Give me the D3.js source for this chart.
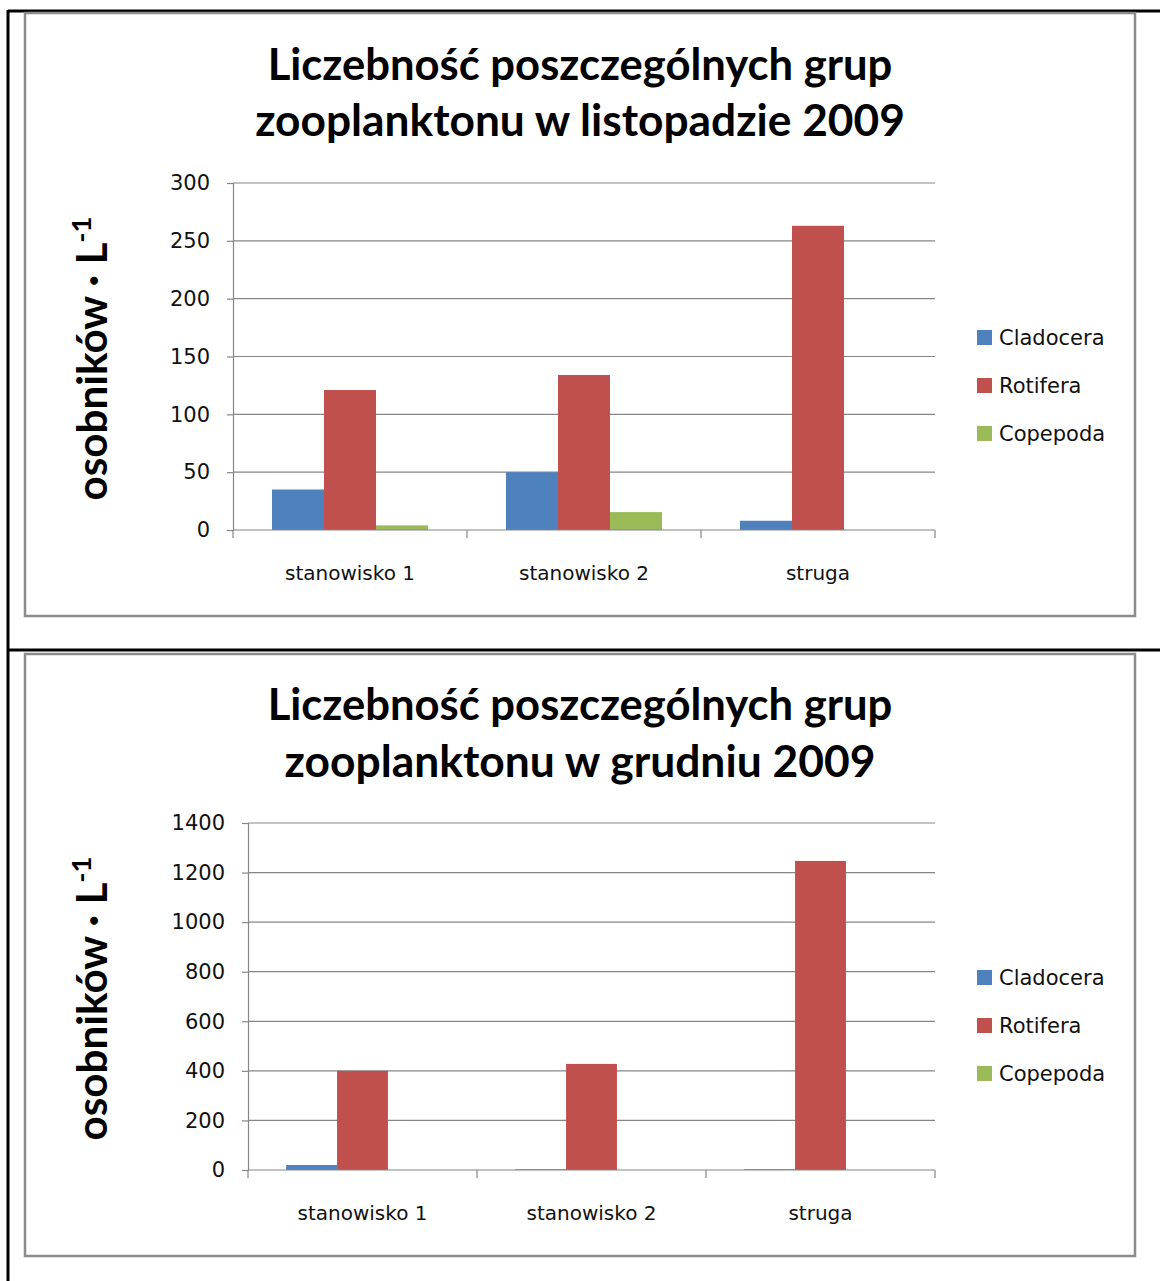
<!DOCTYPE html>
<html><head><meta charset="utf-8">
<script src="https://cdn.jsdelivr.net/npm/d3@7"></script>
<style>body{margin:0;background:#fff}svg{display:block}</style>
</head><body>
<script>
const categories = ["stanowisko 1", "stanowisko 2", "struga"];
const seriesNames = ["Cladocera", "Rotifera", "Copepoda"];
const colors = ["#4F81BD", "#C0504D", "#9BBB59"];

const novTitle = ["Liczebność poszczególnych grup", "zooplanktonu w listopadzie 2009"];
const novCladocera = [35, 50, 8];
const novRotifera = [121, 134, 263];
const novCopepoda = [4, 15.5, 0];
const novTicks = [0, 50, 100, 150, 200, 250, 300];

const decTitle = ["Liczebność poszczególnych grup", "zooplanktonu w grudniu 2009"];
const decCladocera = [20, 3, 3];
const decRotifera = [400, 428, 1247];
const decCopepoda = [0, 0, 0];
const decTicks = [0, 200, 400, 600, 800, 1000, 1200, 1400];

const W = 1160, H = 1281;
const FONT = "Lato, 'Open Sans', sans-serif";
const SMALL = "'DejaVu Sans', Verdana, sans-serif";
const svg = d3.select("body").append("svg").attr("width", W).attr("height", H);

// outer table frame
const frame = svg.append("g").attr("stroke", "#000").attr("stroke-width", 3);
frame.append("line").attr("x1", 8).attr("x2", W).attr("y1", 11).attr("y2", 11);
frame.append("line").attr("x1", 8).attr("x2", W).attr("y1", 650).attr("y2", 650);
frame.append("line").attr("x1", 8).attr("x2", 8).attr("y1", 10).attr("y2", H);

function fitText(sel, target, maxSize) {
  sel.attr("font-size", maxSize);
  const w = sel.node().getComputedTextLength();
  sel.attr("font-size", maxSize * target / w);
}

function drawChart(o) {
  const g = svg.append("g");
  g.append("rect").attr("x", o.box[0]).attr("y", o.box[1])
    .attr("width", o.box[2]).attr("height", o.box[3])
    .attr("fill", "#fff").attr("stroke", "#8c8c8c").attr("stroke-width", 2.5);

  o.title.forEach((t, i) => {
    const tx = g.append("text").attr("x", 580).attr("y", o.titleY[i])
      .attr("text-anchor", "middle").attr("font-family", FONT)
      .attr("font-weight", "bold").attr("fill", "#000").text(t);
    fitText(tx, o.titleW[i], 37);
  });

  const x0 = d3.scaleBand().domain(categories).range([o.xr[0], o.xr[1]]);
  const x1 = d3.scaleBand().domain(seriesNames)
    .range([0, x0.bandwidth()]).paddingInner(0).paddingOuter(0.75);
  const y = d3.scaleLinear().domain([0, o.ticks[o.ticks.length - 1]]).range([o.yr[0], o.yr[1]]);

  g.append("g").selectAll("line").data(o.ticks.slice(1)).join("line")
    .attr("x1", o.xr[0]).attr("x2", o.xr[1])
    .attr("y1", d => y(d)).attr("y2", d => y(d))
    .attr("stroke", "#868686").attr("stroke-width", 1.2);

  const series = [o.s1, o.s2, o.s3];
  series.forEach((vals, si) => {
    g.append("g").selectAll("rect").data(vals).join("rect")
      .attr("x", (d, i) => x0(categories[i]) + x1(seriesNames[si]))
      .attr("width", x1.bandwidth())
      .attr("y", d => y(d))
      .attr("height", d => y(0) - y(d))
      .attr("fill", colors[si]);
  });

  const ya = g.append("g").attr("transform", `translate(${o.xr[0]},0)`)
    .call(d3.axisLeft(y).tickValues(o.ticks).tickSize(6).tickPadding(17).tickFormat(d3.format("d")));
  ya.select(".domain").attr("stroke", "#868686").attr("stroke-width", 1.2);
  ya.selectAll(".tick line").attr("stroke", "#868686").attr("stroke-width", 1.2);
  ya.selectAll("text").attr("font-family", SMALL).attr("font-size", 21).attr("fill", "#111");

  const xa = g.append("g").attr("transform", `translate(0,${o.yr[0]})`);
  xa.append("line").attr("x1", o.xr[0]).attr("x2", o.xr[1])
    .attr("stroke", "#868686").attr("stroke-width", 1.2);
  const bounds = categories.map(c => x0(c)).concat([o.xr[1]]);
  xa.selectAll("line.tk").data(bounds).join("line").attr("class", "tk")
    .attr("x1", d => d).attr("x2", d => d).attr("y1", 0).attr("y2", 8)
    .attr("stroke", "#868686").attr("stroke-width", 1.2);
  xa.selectAll("text").data(categories).join("text")
    .attr("x", d => x0(d) + x0.bandwidth() / 2).attr("y", 50)
    .attr("text-anchor", "middle").attr("font-family", SMALL)
    .attr("font-size", 20).attr("fill", "#111").text(d => d);

  const yt = g.append("text")
    .attr("transform", `translate(${o.ytX},${(o.yr[0] + o.yr[1]) / 2 + 2}) rotate(-90)`)
    .attr("text-anchor", "middle").attr("font-family", FONT)
    .attr("font-weight", "bold").attr("font-size", 40).attr("fill", "#000");
  yt.append("tspan").text("osobników · L");
  const sup = yt.append("tspan").attr("dy", -16).attr("font-size", 26).text("-1");
  fitText(yt, 284, 40);
  sup.attr("font-size", +yt.attr("font-size") * 0.65);

  const lg = g.append("g").selectAll("g").data(seriesNames).join("g")
    .attr("transform", (d, i) => `translate(977,${o.legY + i * 48})`);
  lg.append("rect").attr("x", 0).attr("y", -7).attr("width", 15).attr("height", 15)
    .attr("fill", (d, i) => colors[i]);
  lg.append("text").attr("x", 22).attr("y", 8).attr("font-family", SMALL)
    .attr("font-size", 21).attr("fill", "#111").text(d => d);
}

drawChart({
  box: [25, 13, 1110, 603], title: novTitle, titleY: [80, 136], titleW: [625, 650],
  xr: [233, 935], yr: [530, 183], ticks: novTicks,
  s1: novCladocera, s2: novRotifera, s3: novCopepoda, ytX: 107, legY: 337
});
drawChart({
  box: [25, 654, 1110, 602], title: decTitle, titleY: [720, 777], titleW: [625, 591],
  xr: [248, 935], yr: [1170, 823], ticks: decTicks,
  s1: decCladocera, s2: decRotifera, s3: decCopepoda, ytX: 107, legY: 977
});
</script>
</body></html>
